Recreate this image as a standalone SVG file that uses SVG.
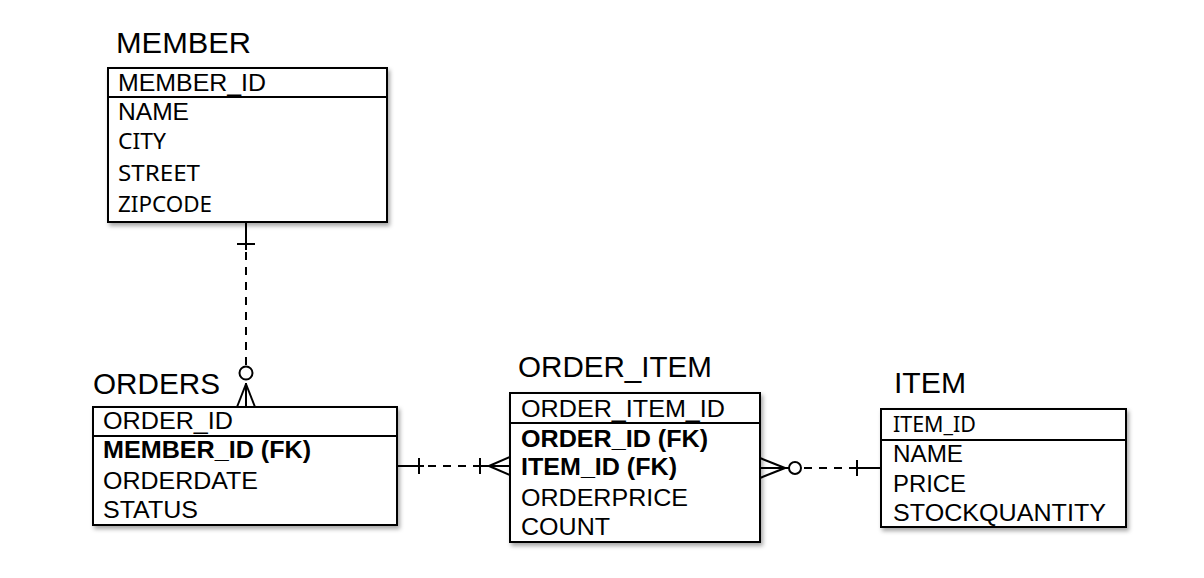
<svg xmlns="http://www.w3.org/2000/svg" width="1204" height="578" viewBox="0 0 1204 578">
<defs>
<filter id="sh" x="-10%" y="-10%" width="130%" height="130%">
<feDropShadow dx="2" dy="3" stdDeviation="2" flood-color="#000" flood-opacity="0.35"/>
</filter>
<style>
.box{fill:#fff;stroke:#000;stroke-width:2}
.div{stroke:#000;stroke-width:2}
.t{font-family:"Liberation Sans",Arial,sans-serif;font-size:30px;fill:#000}
.r{font-family:"Liberation Sans",Arial,sans-serif;font-size:24px;fill:#000}
.b{font-weight:bold}
.n{font-family:"Noto Sans","DejaVu Sans",sans-serif;font-size:22px;fill:#000}
.ln{stroke:#000;stroke-width:2;fill:none}
.ds{stroke:#000;stroke-width:2;fill:none;stroke-dasharray:8 7}
</style>
</defs>
<rect width="1204" height="578" fill="#fff"/>

<g id="connectors">
<!-- MEMBER - ORDERS -->
<line class="ln" x1="246" y1="222" x2="246" y2="250"/>
<line class="ln" x1="237" y1="244" x2="255" y2="244"/>
<line class="ds" x1="246" y1="252" x2="246" y2="366"/>
<circle class="ln" cx="246" cy="373" r="6.5"/>
<line class="ln" x1="246" y1="383" x2="246" y2="407"/>
<line class="ln" x1="246" y1="384" x2="237" y2="407"/>
<line class="ln" x1="246" y1="384" x2="255" y2="407"/>
<!-- ORDERS - ORDER_ITEM -->
<line class="ln" x1="397" y1="466" x2="424" y2="466"/>
<line class="ln" x1="419" y1="458" x2="419" y2="474"/>
<line class="ds" x1="428" y1="466" x2="474" y2="466"/>
<line class="ln" x1="474" y1="466" x2="510" y2="466"/>
<line class="ln" x1="480" y1="458" x2="480" y2="474"/>
<line class="ln" x1="489" y1="466" x2="510" y2="457"/>
<line class="ln" x1="489" y1="466" x2="510" y2="475"/>
<!-- ORDER_ITEM - ITEM -->
<line class="ln" x1="760" y1="468" x2="789" y2="468"/>
<line class="ln" x1="785" y1="468" x2="760" y2="458"/>
<line class="ln" x1="785" y1="468" x2="760" y2="478"/>
<circle class="ln" cx="795" cy="468" r="6"/>
<line class="ds" x1="804" y1="468" x2="852" y2="468"/>
<line class="ln" x1="852" y1="468" x2="881" y2="468"/>
<line class="ln" x1="857" y1="460" x2="857" y2="476"/>
</g>

<g id="member">
<text class="t" x="116" y="53" textLength="135" lengthAdjust="spacingAndGlyphs">MEMBER</text>
<rect class="box" filter="url(#sh)" x="108" y="68" width="279" height="154"/>
<line class="div" x1="108" y1="97" x2="387" y2="97"/>
<text class="r" x="118" y="91" textLength="148" lengthAdjust="spacingAndGlyphs">MEMBER_ID</text>
<text class="r" x="118" y="120" textLength="71" lengthAdjust="spacingAndGlyphs">NAME</text>
<text class="n" x="118" y="149" textLength="48" lengthAdjust="spacingAndGlyphs">CITY</text>
<text class="n" x="118" y="181" textLength="82" lengthAdjust="spacingAndGlyphs">STREET</text>
<text class="n" x="118" y="212" textLength="94" lengthAdjust="spacingAndGlyphs">ZIPCODE</text>
</g>

<g id="orders">
<text class="t" x="93" y="394" textLength="127" lengthAdjust="spacingAndGlyphs">ORDERS</text>
<rect class="box" filter="url(#sh)" x="93" y="407" width="304" height="118"/>
<line class="div" x1="93" y1="436" x2="397" y2="436"/>
<text class="r" x="103" y="429" textLength="130" lengthAdjust="spacingAndGlyphs">ORDER_ID</text>
<text class="r b" x="103" y="458" textLength="208" lengthAdjust="spacingAndGlyphs">MEMBER_ID (FK)</text>
<text class="r" x="103" y="489" textLength="155" lengthAdjust="spacingAndGlyphs">ORDERDATE</text>
<text class="r" x="103" y="518" textLength="95" lengthAdjust="spacingAndGlyphs">STATUS</text>
</g>

<g id="order_item">
<text class="t" x="518" y="377" textLength="194" lengthAdjust="spacingAndGlyphs">ORDER_ITEM</text>
<rect class="box" filter="url(#sh)" x="510" y="393" width="250" height="149"/>
<line class="div" x1="510" y1="423" x2="760" y2="423"/>
<text class="r" x="521" y="417" textLength="204" lengthAdjust="spacingAndGlyphs">ORDER_ITEM_ID</text>
<text class="r b" x="521" y="447" textLength="187" lengthAdjust="spacingAndGlyphs">ORDER_ID (FK)</text>
<text class="r b" x="521" y="475" textLength="156" lengthAdjust="spacingAndGlyphs">ITEM_ID (FK)</text>
<text class="r" x="521" y="506" textLength="167" lengthAdjust="spacingAndGlyphs">ORDERPRICE</text>
<text class="r" x="521" y="535" textLength="89" lengthAdjust="spacingAndGlyphs">COUNT</text>
</g>

<g id="item">
<text class="t" x="894" y="393" textLength="72" lengthAdjust="spacingAndGlyphs">ITEM</text>
<rect class="box" filter="url(#sh)" x="881" y="409" width="245" height="118"/>
<line class="div" x1="881" y1="440" x2="1126" y2="440"/>
<text class="n" x="893" y="432" textLength="83" lengthAdjust="spacingAndGlyphs">ITEM_ID</text>
<text class="r" x="893" y="462" textLength="70" lengthAdjust="spacingAndGlyphs">NAME</text>
<text class="r" x="893" y="492" textLength="73" lengthAdjust="spacingAndGlyphs">PRICE</text>
<text class="r" x="893" y="521" textLength="213" lengthAdjust="spacingAndGlyphs">STOCKQUANTITY</text>
</g>
</svg>
